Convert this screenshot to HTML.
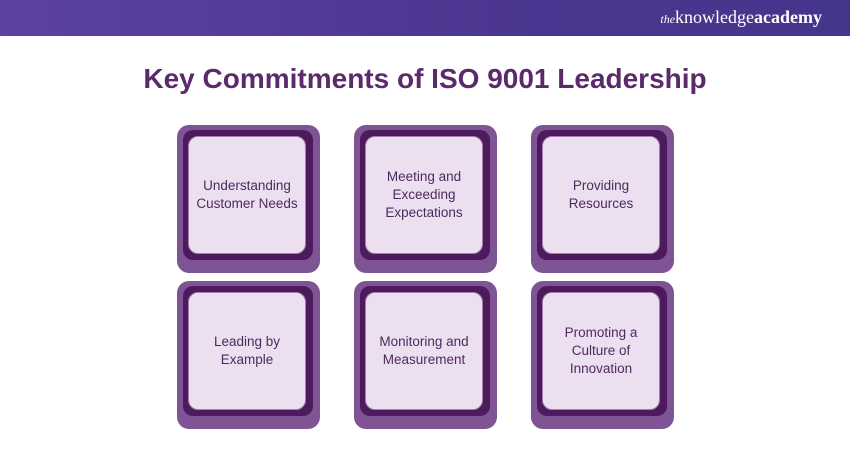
<!DOCTYPE html>
<html><head><style>
body{margin:0;width:850px;height:450px;background:#fff;position:relative;overflow:hidden;font-family:"Liberation Sans",sans-serif}
.hdr{position:absolute;left:0;top:0;width:850px;height:36px;background:linear-gradient(90deg,#5d42a0,#4b3690 60%,#46358c)}
.logo{position:absolute;right:28px;top:7px;color:#fff;font-family:"Liberation Serif",serif;font-size:18px}
.logo i{font-size:12px}
.logo b{font-weight:bold}
h1{position:absolute;left:0;width:850px;top:63px;margin:0;text-align:center;font-size:28px;color:#5a2a6b;font-weight:bold}
.t{position:absolute;width:143px;height:148px;background:#7f5494;border-radius:12px}
.f{position:absolute;left:6px;top:5px;width:130px;height:130px;background:#4e1a5e;border-radius:10px}
.in{position:absolute;left:5px;top:6px;width:116px;height:116px;background:#ecdff0;border:1px solid #a680b4;border-radius:10px;display:flex;align-items:center;justify-content:center;text-align:center;color:#4e2a5e;font-size:13.5px;line-height:18px}
</style></head><body>
<div class="hdr"><div class="logo"><i>the</i>knowledge<b>academy</b></div></div>
<h1>Key Commitments of ISO 9001 Leadership</h1>
<div class="t" style="left:177px;top:125px"><div class="f"><div class="in">Understanding<br>Customer Needs</div></div></div>
<div class="t" style="left:354px;top:125px"><div class="f"><div class="in">Meeting and<br>Exceeding<br>Expectations</div></div></div>
<div class="t" style="left:531px;top:125px"><div class="f"><div class="in">Providing<br>Resources</div></div></div>
<div class="t" style="left:177px;top:281px"><div class="f"><div class="in">Leading by<br>Example</div></div></div>
<div class="t" style="left:354px;top:281px"><div class="f"><div class="in">Monitoring and<br>Measurement</div></div></div>
<div class="t" style="left:531px;top:281px"><div class="f"><div class="in">Promoting a<br>Culture of<br>Innovation</div></div></div>
</body></html>
